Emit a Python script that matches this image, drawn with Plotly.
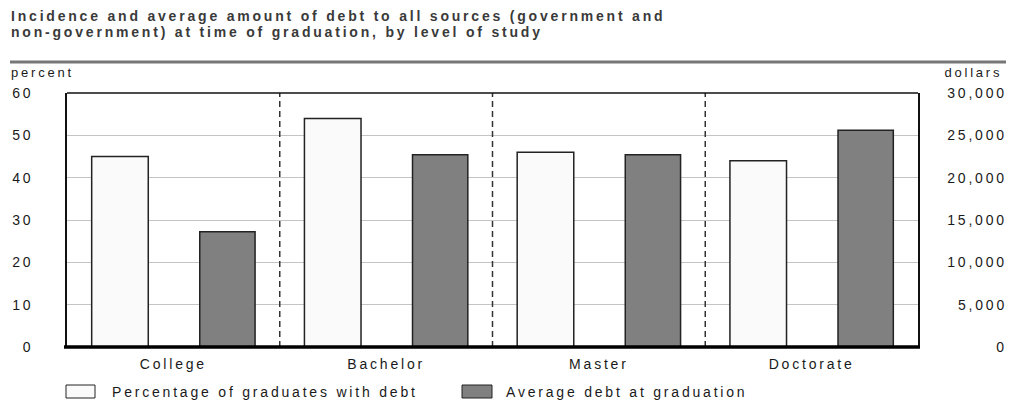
import plotly.graph_objects as go

# ---- data ----
categories = ["College", "Bachelor", "Master", "Doctorate"]
pct_with_debt = [45, 54, 46, 44]              # percent
avg_debt = [13600, 22700, 22700, 25600]      # dollars
left_ticks = [0, 10, 20, 30, 40, 50, 60]
right_ticks = [0, 5000, 10000, 15000, 20000, 25000, 30000]
series_names = ["Percentage of graduates with debt", "Average debt at graduation"]
title_lines = ["Incidence and average amount of debt to all sources (government and",
               "non-government) at time of graduation, by level of study"]

FONT = "Liberation Sans, Arial, sans-serif"
TXT = "#1a1a1a"
FS = 14
W, H = 1010, 414
L, R, T, B = 67, 92, 93, 67
pw, ph = W - L - R, H - T - B


def px(x):
    return (x - L) / pw


def py(y):
    return (H - B - y) / ph


fig = go.Figure()
fig.add_trace(go.Bar(
    x=categories, y=pct_with_debt, name=series_names[0],
    width=0.266, offset=-0.384,
    marker=dict(color="#fafafa", line=dict(color="#222222", width=1.5)),
    showlegend=False, yaxis="y"))
fig.add_trace(go.Bar(
    x=categories, y=avg_debt, name=series_names[1],
    width=0.26, offset=0.124,
    marker=dict(color="#808080", line=dict(color="#222222", width=1.5)),
    showlegend=False, yaxis="y2"))

shapes = []
# dashed separators between categories
for i in range(len(categories) - 1):
    shapes.append(dict(type="line", xref="x", yref="paper", x0=i + 0.5, x1=i + 0.5,
                       y0=0, y1=1, line=dict(color="#333333", width=1.5, dash="6px,4px"),
                       layer="above"))
# top frame
shapes.append(dict(type="line", xref="paper", yref="paper", x0=0, x1=1, y0=1, y1=1,
                   line=dict(color="#111111", width=1.5)))
# bottom heavy baseline
shapes.append(dict(type="line", xref="paper", yref="paper", x0=px(64), x1=px(920), y0=0, y1=0,
                   line=dict(color="#000000", width=3.5), layer="above"))
# rule under the title
shapes.append(dict(type="line", xref="paper", yref="paper", x0=px(10), x1=px(1006),
                   y0=py(62), y1=py(62), line=dict(color="#777777", width=3)))
# legend boxes
shapes.append(dict(type="rect", xref="paper", yref="paper", x0=px(66), x1=px(95),
                   y0=py(385), y1=py(398), fillcolor="#fafafa",
                   line=dict(color="#222222", width=1)))
shapes.append(dict(type="rect", xref="paper", yref="paper", x0=px(462), x1=px(492),
                   y0=py(385), y1=py(398), fillcolor="#808080",
                   line=dict(color="#222222", width=1)))

annotations = []
for k, line in enumerate(title_lines):
    annotations.append(dict(text=f"<b>{line}</b>", xref="paper", yref="paper",
                            x=px(9), y=py(16 + 15.5 * k), xanchor="left", yanchor="middle",
                            align="left", showarrow=False,
                            font=dict(family=FONT, size=14, color="#3a3a3a")))
annotations.append(dict(text="percent", xref="paper", yref="paper", x=px(9), y=py(73),
                        xanchor="left", yanchor="middle", align="left", showarrow=False,
                        font=dict(family=FONT, size=FS - 1, color=TXT)))
annotations.append(dict(text="dollars", xref="paper", yref="paper", x=px(1005), y=py(73),
                        xanchor="right", yanchor="middle", align="right", showarrow=False,
                        font=dict(family=FONT, size=FS - 1, color=TXT)))
for v in right_ticks:
    annotations.append(dict(text=f"{v:,}", xref="paper", yref="y2", x=px(1009), y=v,
                            xanchor="right", yanchor="middle", align="right", showarrow=False,
                            font=dict(family=FONT, size=FS, color=TXT)))
annotations.append(dict(text=series_names[0], xref="paper", yref="paper", x=px(110), y=py(391.5),
                        xanchor="left", yanchor="middle", align="left", showarrow=False,
                        font=dict(family=FONT, size=FS, color=TXT)))
annotations.append(dict(text=series_names[1], xref="paper", yref="paper", x=px(504), y=py(391.5),
                        xanchor="left", yanchor="middle", align="left", showarrow=False,
                        font=dict(family=FONT, size=FS, color=TXT)))

fig.update_layout(
    width=W, height=H,
    margin=dict(l=L, r=R, t=T, b=B, pad=0),
    paper_bgcolor="white", plot_bgcolor="white",
    barmode="overlay",
    xaxis=dict(range=[-0.5, 3.5], showgrid=False, showline=False, zeroline=False,
               ticks="", ticklabelstandoff=7, tickfont=dict(family=FONT, size=FS, color=TXT)),
    yaxis=dict(range=[0, 60], tickvals=left_ticks, showgrid=True, gridcolor="#c4c4c4",
               gridwidth=1, zeroline=False, showline=True, linecolor="#111111",
               linewidth=1.5, mirror=True, ticks="", ticklabelstandoff=29,
               tickfont=dict(family=FONT, size=FS, color=TXT)),
    yaxis2=dict(range=[0, 30000], overlaying="y", side="right", showgrid=False,
                zeroline=False, showticklabels=False, showline=False),
    shapes=shapes, annotations=annotations,
    showlegend=False,
)

post = """
var s = document.createElement('style');
s.innerHTML = 'body{margin:0;} svg text{letter-spacing:2.8px;}';
document.head.appendChild(s);
"""
fig.write_html("out.html", post_script=post, config={"displayModeBar": False})
